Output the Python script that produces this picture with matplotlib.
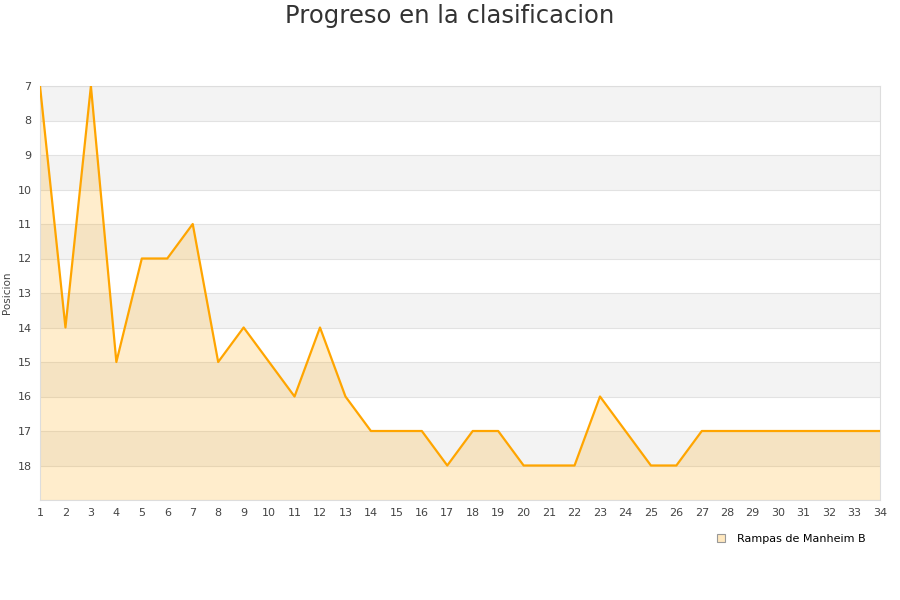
import matplotlib
matplotlib.use('Agg')
import matplotlib.pyplot as plt
from matplotlib.lines import Line2D

jornadas = list(range(1, 35))
posicion = [7, 14, 7, 15, 12, 12, 11, 15, 14, 15, 16, 14, 16, 17, 17, 17, 18, 17, 17,
            18, 18, 18, 16, 17, 18, 18, 17, 17, 17, 17, 17, 17, 17, 17]
equipo = 'Rampas de Manheim B'
titulo = 'Progreso en la clasificacion'

fig = plt.figure(figsize=(9, 6), dpi=100)
ax = fig.add_axes([40 / 900, 100 / 600, 840 / 900, 414 / 600])

# bandas alternas
for y0 in range(7, 19, 2):
    ax.axhspan(y0, y0 + 1, color='#f3f3f3', zorder=0, lw=0)
for y in range(7, 20):
    ax.axhline(y, color='#e2e2e2', lw=0.8, zorder=1)

ax.fill_between(jornadas, posicion, 19, color='#ffa500', alpha=0.2, lw=0, zorder=2)
ax.plot(jornadas, posicion, color='#ffa500', lw=1.6, zorder=3)

ax.set_xlim(1, 34)
ax.set_ylim(19, 7)
ax.set_xticks(jornadas)
ax.set_yticks(range(7, 19))
ax.tick_params(axis='both', length=0, labelsize=8, colors='#444444', pad=6)
for s in ax.spines.values():
    s.set_color('#dddddd')
ax.set_ylabel('Posicion', fontsize=7.5, color='#444444', labelpad=4)

fig.text(0.5, 1 - 16 / 600, titulo, ha='center', va='center', fontsize=17.5, color='#333333')

h = Line2D([], [], marker='s', ls='none', markersize=6, markerfacecolor='#ffe8bf',
           markeredgecolor='#999999', markeredgewidth=0.8)
fig.legend([h], [equipo], loc='center', bbox_to_anchor=(788 / 900, 1 - 539 / 600),
           frameon=False, fontsize=8, handletextpad=0.4)

fig.savefig('out.png', dpi=100)
